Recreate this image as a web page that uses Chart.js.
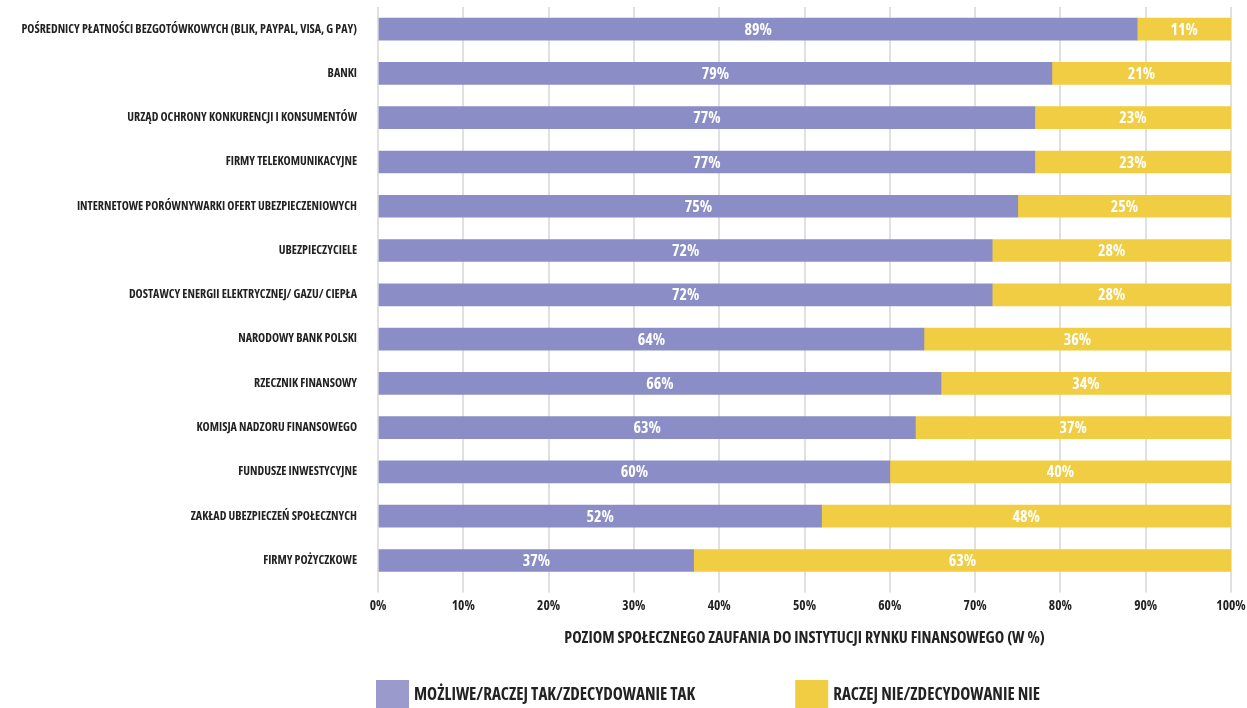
<!DOCTYPE html>
<html lang="pl">
<head>
<meta charset="utf-8">
<title>Poziom społecznego zaufania do instytucji rynku finansowego</title>
<script src="https://cdn.jsdelivr.net/npm/chart.js@4/dist/chart.umd.min.js"></script>
<style>
  html, body { margin: 0; padding: 0; background: #ffffff; }
  #chart { display: block; }
</style>
</head>
<body>
<canvas id="chart" width="1247" height="708"></canvas>
<script>
// Institutions (top to bottom)
const categories = [
  'POŚREDNICY PŁATNOŚCI BEZGOTÓWKOWYCH (BLIK, PAYPAL, VISA, G PAY)',
  'BANKI',
  'URZĄD OCHRONY KONKURENCJI I KONSUMENTÓW',
  'FIRMY TELEKOMUNIKACYJNE',
  'INTERNETOWE PORÓWNYWARKI OFERT UBEZPIECZENIOWYCH',
  'UBEZPIECZYCIELE',
  'DOSTAWCY ENERGII ELEKTRYCZNEJ/ GAZU/ CIEPŁA',
  'NARODOWY BANK POLSKI',
  'RZECZNIK FINANSOWY',
  'KOMISJA NADZORU FINANSOWEGO',
  'FUNDUSZE INWESTYCYJNE',
  'ZAKŁAD UBEZPIECZEŃ SPOŁECZNYCH',
  'FIRMY POŻYCZKOWE'
];

// Share of answers, in %
const trustYes = [89, 79, 77, 77, 75, 72, 72, 64, 66, 63, 60, 52, 37];
const trustNo  = [11, 21, 23, 23, 25, 28, 28, 36, 34, 37, 40, 48, 63];

const seriesNames = ['MOŻLIWE/RACZEJ TAK/ZDECYDOWANIE TAK', 'RACZEJ NIE/ZDECYDOWANIE NIE'];
const xTicks = [0, 10, 20, 30, 40, 50, 60, 70, 80, 90, 100];
const axisTitle = 'POZIOM SPOŁECZNEGO ZAUFANIA DO INSTYTUCJI RYNKU FINANSOWEGO (W %)';

// Condensed bold face (Open Sans has a width axis)
const FAMILY = '"Open Sans", "DejaVu Sans Condensed", sans-serif';
const WEIGHT = 'bold condensed';
const PURPLE = '#8b8ec6';
const YELLOW = '#f0cd42';
const SWATCH = ['#9a9bcc', '#f0cd42'];
const INK = '#222222';

// Writes each segment's value in the middle of its bar
const valueLabels = {
  id: 'valueLabels',
  afterDatasetsDraw(chart) {
    const ctx = chart.ctx;
    ctx.save();
    ctx.font = WEIGHT + ' 16px ' + FAMILY;
    ctx.fillStyle = '#ffffff';
    ctx.textAlign = 'center';
    ctx.textBaseline = 'middle';
    chart.data.datasets.forEach((ds, di) => {
      const meta = chart.getDatasetMeta(di);
      meta.data.forEach((bar, i) => {
        const cx = (bar.x + bar.base) / 2;
        ctx.fillText(ds.data[i] + '%', cx, bar.y + 1);
      });
    });
    ctx.restore();
  }
};

// Legend row under the axis title: square swatch + label per series
const bottomLegend = {
  id: 'bottomLegend',
  afterDraw(chart) {
    const ctx = chart.ctx;
    const xs = chart.scales.x;
    const boxW = 33, boxH = 28, gapText = 5, gapItem = 100;
    const top = xs.bottom + 32;
    let x = chart.chartArea.left - 2;
    ctx.save();
    ctx.font = WEIGHT + ' 17px ' + FAMILY;
    ctx.textBaseline = 'middle';
    ctx.textAlign = 'left';
    chart.data.datasets.forEach((ds, i) => {
      ctx.fillStyle = SWATCH[i];
      ctx.fillRect(x, top, boxW, boxH);
      ctx.fillStyle = INK;
      const tx = x + boxW + gapText;
      ctx.fillText(ds.label, tx, top + boxH / 2 + 1);
      x = tx + ctx.measureText(ds.label).width + gapItem;
    });
    ctx.restore();
  }
};

new Chart(document.getElementById('chart'), {
  type: 'bar',
  data: {
    labels: categories,
    datasets: [
      { label: seriesNames[0], data: trustYes, backgroundColor: PURPLE },
      { label: seriesNames[1], data: trustNo, backgroundColor: YELLOW }
    ]
  },
  options: {
    indexAxis: 'y',
    responsive: false,
    animation: false,
    devicePixelRatio: 1,
    layout: { padding: { top: 7, right: 16, left: 8, bottom: 60 } },
    datasets: { bar: { barThickness: 22 } },
    scales: {
      x: {
        stacked: true,
        min: 0,
        max: 100,
        afterBuildTicks(scale) { scale.ticks = xTicks.map(v => ({ value: v })); },
        afterFit(scale) {
          // end labels may overhang the plot edges
          scale.paddingLeft = 0;
          scale.paddingRight = 0;
        },
        grid: { color: '#e0e0e0', lineWidth: 2, tickLength: 10, drawTicks: true },
        border: { display: false },
        ticks: {
          color: INK,
          padding: 5,
          font: { family: FAMILY, size: 13.5, weight: WEIGHT },
          callback: v => v + '%'
        },
        title: {
          display: true,
          text: axisTitle,
          color: INK,
          padding: { top: 10, bottom: 0 },
          font: { family: FAMILY, size: 16, weight: WEIGHT }
        }
      },
      y: {
        stacked: true,
        grid: { display: false, drawTicks: false },
        border: { display: false },
        afterFit(scale) {
          // fixed label column; no extra vertical padding for the category axis
          scale.width = 370;
          scale.paddingTop = 0;
          scale.paddingBottom = 0;
        },
        ticks: {
          color: INK,
          padding: 21,
          font: { family: FAMILY, size: 12, weight: WEIGHT }
        }
      }
    },
    plugins: {
      tooltip: { enabled: false },
      legend: { display: false }
    }
  },
  plugins: [valueLabels, bottomLegend]
});
</script>
</body>
</html>
